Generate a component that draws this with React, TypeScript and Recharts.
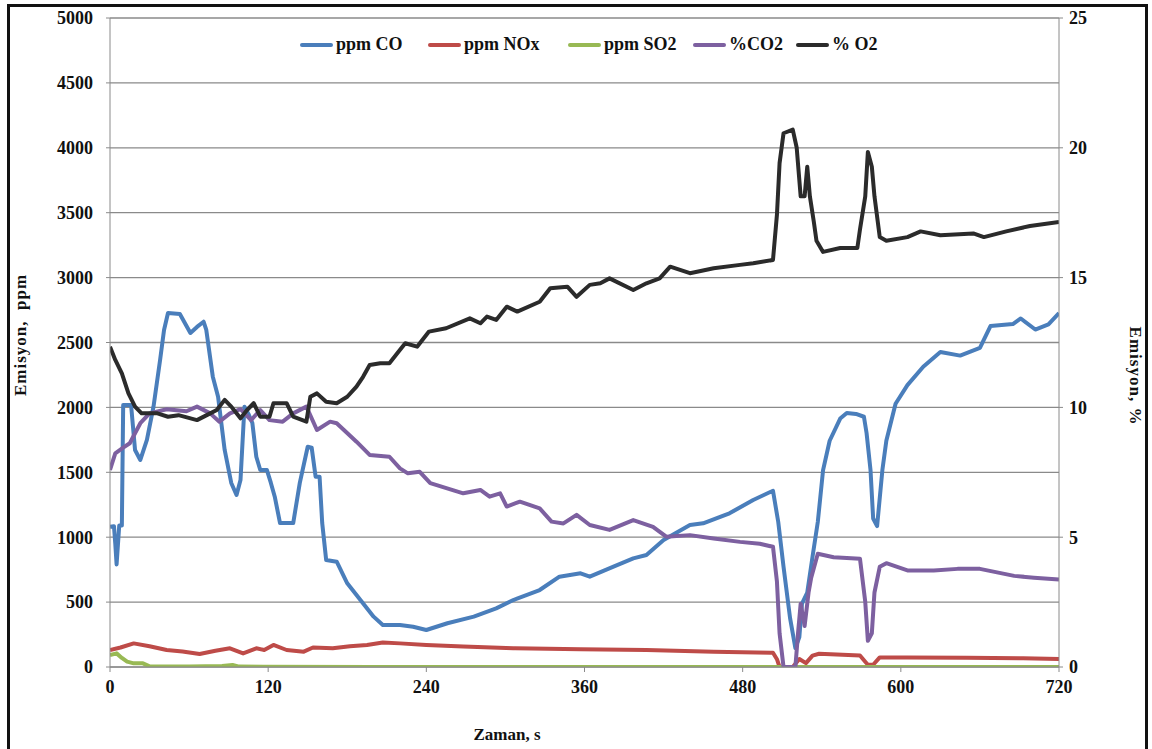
import { LineChart, Line, XAxis, YAxis, CartesianGrid } from "recharts";

// [seconds, value] readings per series
const coPpm: [number, number][] = [
  [0, 1080], [3, 1085], [4, 950], [5, 790], [7, 1090], [9, 1090], [10, 2018], [16, 2018], [19, 1672], [23, 1595],
  [28, 1749], [33, 2005], [38, 2365], [41, 2596], [44, 2727], [53, 2720], [61, 2573], [66, 2620], [71, 2660], [73, 2600],
  [78, 2237], [82, 2082], [87, 1672], [92, 1418], [96, 1325], [99, 1440], [102, 2005], [105, 1950], [108, 1880], [111, 1620],
  [114, 1518], [119, 1518], [122, 1420], [125, 1312], [129, 1109], [139, 1109], [144, 1418], [150, 1697], [153, 1690], [156, 1466],
  [159, 1466], [161, 1109], [164, 824], [172, 811], [180, 645], [190, 516], [200, 388], [207, 323], [220, 323], [230, 310],
  [240, 285], [256, 337], [276, 388], [293, 452], [306, 516], [326, 593], [341, 696], [357, 722], [364, 696], [382, 773],
  [397, 837], [407, 863], [420, 978], [440, 1094], [450, 1107], [470, 1184], [488, 1287], [503, 1358], [507, 1117], [511, 773],
  [516, 374], [520, 146], [523, 231], [525, 488], [529, 573], [533, 850], [537, 1117], [541, 1517], [546, 1743], [554, 1914],
  [559, 1957], [566, 1950], [572, 1928], [574, 1803], [577, 1517], [579, 1144], [582, 1086], [586, 1517], [589, 1743], [596, 2028],
  [605, 2172], [617, 2313], [630, 2427], [645, 2399], [660, 2458], [668, 2627], [685, 2642], [691, 2685], [702, 2600], [712, 2640],
  [720, 2727],
];

const noxPpm: [number, number][] = [
  [0, 131], [8, 150], [18, 182], [30, 160], [43, 131], [55, 120], [68, 100], [80, 125], [91, 144], [101, 105],
  [111, 144], [117, 131], [124, 170], [134, 131], [147, 118], [154, 150], [169, 144], [182, 160], [195, 170], [207, 188],
  [220, 182], [240, 170], [268, 157], [306, 144], [357, 136], [407, 131], [458, 118], [503, 110], [506, 60], [508, 0],
  [518, 0], [523, 62], [528, 30], [533, 88], [538, 102], [569, 88], [573, 40], [575, 17], [579, 17], [584, 74],
  [605, 74], [650, 72], [690, 68], [720, 62],
];

const so2Ppm: [number, number][] = [
  [0, 92], [5, 105], [9, 70], [13, 41], [18, 28], [25, 28], [30, 5], [60, 3], [85, 8], [93, 15],
  [98, 3], [200, 0], [400, 0], [600, 0], [720, 0],
];

const co2Pct: [number, number][] = [
  [0, 7.59], [4, 8.23], [10, 8.45], [15, 8.62], [23, 9.39], [30, 9.77], [43, 9.93], [58, 9.85], [66, 10.03], [76, 9.77],
  [83, 9.45], [91, 9.77], [99, 9.93], [107, 9.51], [114, 9.9], [121, 9.51], [131, 9.45], [139, 9.77], [149, 10.03], [157, 9.13],
  [167, 9.45], [172, 9.39], [187, 8.68], [197, 8.17], [212, 8.1], [220, 7.65], [226, 7.46], [235, 7.52], [243, 7.08], [268, 6.69],
  [281, 6.82], [288, 6.56], [296, 6.69], [301, 6.18], [311, 6.37], [326, 6.11], [335, 5.6], [344, 5.53], [354, 5.86], [364, 5.47],
  [379, 5.28], [397, 5.66], [412, 5.4], [422, 5.02], [440, 5.08], [458, 4.95], [478, 4.82], [493, 4.75], [503, 4.63], [506, 3.29],
  [508, 1.3], [511, 0], [520, 0], [522, 1.3], [524, 2.44], [527, 1.58], [530, 2.87], [532, 3.44], [537, 4.36], [549, 4.23],
  [569, 4.17], [573, 2.51], [575, 1.01], [578, 1.3], [580, 2.87], [584, 3.86], [589, 4.0], [605, 3.72], [625, 3.72], [643, 3.78],
  [660, 3.78], [686, 3.51], [701, 3.44], [720, 3.37],
];

const o2Pct: [number, number][] = [
  [0, 12.34], [4, 11.83], [9, 11.31], [14, 10.54], [19, 10.03], [24, 9.77], [36, 9.77], [44, 9.64], [52, 9.7], [66, 9.51],
  [76, 9.77], [81, 9.9], [87, 10.29], [92, 10.03], [99, 9.58], [104, 9.9], [109, 10.16], [114, 9.64], [121, 9.64], [124, 10.16],
  [134, 10.16], [139, 9.64], [149, 9.45], [152, 10.41], [157, 10.54], [164, 10.22], [172, 10.16], [180, 10.41], [187, 10.8], [192, 11.18],
  [197, 11.63], [205, 11.7], [212, 11.7], [219, 12.15], [224, 12.47], [233, 12.34], [242, 12.92], [255, 13.05], [273, 13.43], [281, 13.24],
  [286, 13.5], [293, 13.37], [301, 13.88], [309, 13.69], [326, 14.07], [334, 14.59], [347, 14.65], [354, 14.26], [364, 14.72], [372, 14.78],
  [379, 14.97], [397, 14.52], [407, 14.78], [417, 14.97], [425, 15.42], [440, 15.17], [458, 15.36], [478, 15.49], [488, 15.55], [503, 15.68],
  [506, 17.42], [508, 19.41], [511, 20.56], [518, 20.7], [521, 20.0], [524, 18.13], [527, 18.13], [529, 19.27], [531, 18.13], [534, 17.14],
  [536, 16.42], [541, 15.99], [554, 16.14], [567, 16.14], [569, 16.85], [573, 18.13], [575, 19.84], [578, 19.27], [580, 18.13], [584, 16.56],
  [589, 16.42], [605, 16.56], [615, 16.78], [630, 16.63], [655, 16.7], [663, 16.56], [680, 16.78], [698, 16.99], [720, 17.14],
];

const timeTicks = [0, 120, 240, 360, 480, 600, 720];
const ppmTicks = [0, 500, 1000, 1500, 2000, 2500, 3000, 3500, 4000, 4500, 5000];
const pctTicks = [0, 5, 10, 15, 20, 25];

const seriesNames = ["ppm CO", "ppm NOx", "ppm SO2", "%CO2", "% O2"];
const colors = ["#4a7ebb", "#be4b48", "#98b954", "#7d60a0", "#2b2b2b"];

const toRows = (pts: [number, number][]) => pts.map(([t, v]) => ({ t, v }));

const font = "'Liberation Serif', 'Times New Roman', serif";
const tickStyle = { fill: "#111", fontFamily: font, fontWeight: 700, fontSize: 18 };
const gray = "#8a8a8a";

// left edge of each legend swatch (page px)
const legendLeft = [300, 428, 568, 693, 796];

export default function App() {
  return (
    <div
      style={{
        position: "fixed",
        left: 7,
        top: 4,
        width: 1141,
        height: 760,
        border: "3px solid #111",
        borderBottom: "none",
        boxSizing: "border-box",
        background: "#fff",
        fontFamily: font,
      }}
    >
      <LineChart width={1135} height={740} margin={{ top: 11, right: 26, left: 40, bottom: 50 }}>
        <CartesianGrid yAxisId="ppm" vertical={false} stroke={gray} strokeWidth={1.3} />
        <XAxis
          dataKey="t"
          type="number"
          domain={[0, 720]}
          ticks={timeTicks}
          allowDataOverflow
          height={30}
          stroke={gray}
          tickSize={5}
          tickMargin={8}
          tick={tickStyle}
        />
        <YAxis
          yAxisId="ppm"
          orientation="left"
          domain={[0, 5000]}
          ticks={ppmTicks}
          width={60}
          stroke={gray}
          tickSize={4}
          tickMargin={13}
          tick={tickStyle}
          allowDataOverflow
        />
        <YAxis
          yAxisId="pct"
          orientation="right"
          domain={[0, 25]}
          ticks={pctTicks}
          width={60}
          stroke={gray}
          tickSize={4}
          tickMargin={6}
          tick={tickStyle}
          allowDataOverflow
        />
        {[coPpm, noxPpm, so2Ppm, co2Pct, o2Pct].map((pts, i) => (
          <Line
            key={seriesNames[i]}
            name={seriesNames[i]}
            data={toRows(pts)}
            dataKey="v"
            yAxisId={i < 3 ? "ppm" : "pct"}
            type="linear"
            stroke={colors[i]}
            strokeWidth={4}
            strokeLinejoin="round"
            dot={false}
            activeDot={false}
            isAnimationActive={false}
          />
        ))}
      </LineChart>

      {seriesNames.map((name, i) => (
        <div
          key={name}
          style={{
            position: "absolute",
            left: legendLeft[i] - 10,
            top: 27,
            display: "flex",
            alignItems: "center",
            fontSize: 18,
            fontWeight: 700,
            color: "#111",
            whiteSpace: "nowrap",
          }}
        >
          <span style={{ display: "inline-block", width: 33, height: 4, background: colors[i], marginRight: 3, borderRadius: 2 }} />
          {name}
        </div>
      ))}

      <div
        style={{
          position: "absolute",
          left: 21 - 10,
          top: 335 - 7,
          transform: "translate(-50%, -50%) rotate(-90deg)",
          fontSize: 17,
          fontWeight: 700,
          letterSpacing: 1,
          whiteSpace: "pre",
          color: "#111",
        }}
      >
        {"Emisyon,  ppm"}
      </div>
      <div
        style={{
          position: "absolute",
          left: 1135 - 10,
          top: 376 - 7,
          transform: "translate(-50%, -50%) rotate(90deg)",
          fontSize: 17,
          fontWeight: 700,
          letterSpacing: 1,
          whiteSpace: "pre",
          color: "#111",
        }}
      >
        Emisyon, %
      </div>
      <div
        style={{
          position: "absolute",
          left: 507 - 10,
          top: 735 - 7,
          transform: "translate(-50%, -50%)",
          fontSize: 17,
          fontWeight: 700,
          whiteSpace: "pre",
          color: "#111",
        }}
      >
        Zaman, s
      </div>
    </div>
  );
}
